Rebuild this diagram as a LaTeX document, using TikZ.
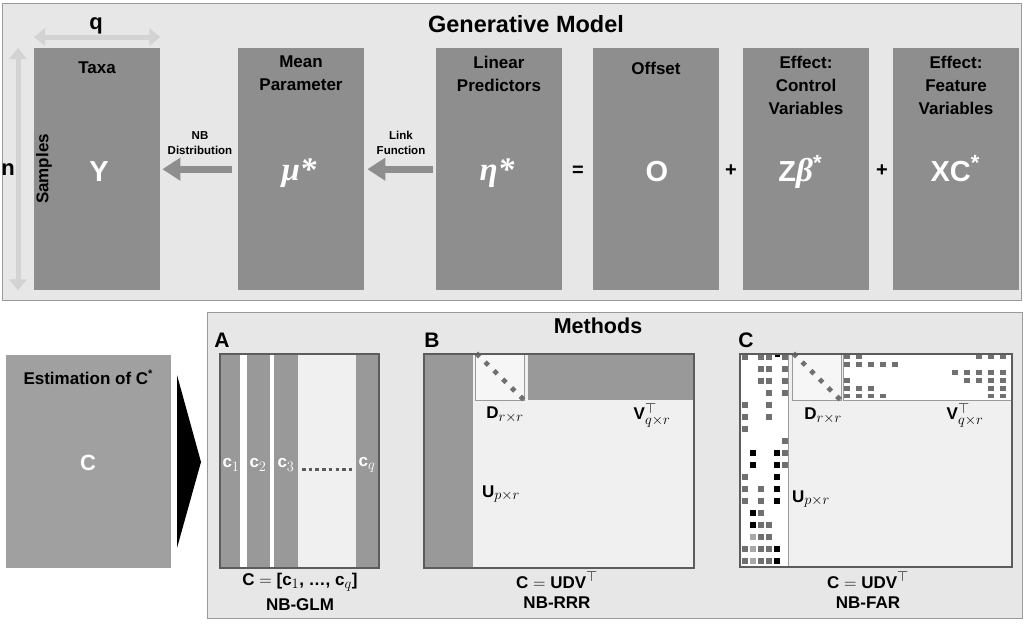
\documentclass[tikz,border=0pt]{standalone}
\usepackage{amsmath,bm}
\usepackage{fontspec}
\setmainfont{Liberation Sans}
\newfontfamily\grk{Liberation Serif}
\DeclareMathSizes{17}{17}{14}{11}
\usetikzlibrary{arrows.meta}
\definecolor{panelbg}{HTML}{E7E7E7}
\definecolor{panelline}{HTML}{9A9A9A}
\definecolor{boxgray}{HTML}{8E8E8E}
\definecolor{estgray}{HTML}{A0A0A0}
\definecolor{stripgray}{HTML}{999999}
\definecolor{lightfill}{HTML}{F0F0F0}
\definecolor{dfill}{HTML}{F6F6F6}
\definecolor{arrowlight}{HTML}{D3D3D3}
\definecolor{matline}{HTML}{5C5C5C}
\definecolor{sqg}{HTML}{707070}
\definecolor{sqk}{HTML}{000000}
\definecolor{sql}{HTML}{A8A8A8}
\begin{document}
\begin{tikzpicture}[x=1pt,y=-1pt,
  hdr/.style={font=\fontsize{17}{23}\selectfont\bfseries, align=center, inner sep=0pt},
  small/.style={font=\fontsize{11.5}{14.5}\selectfont\bfseries, align=center, inner sep=0pt},
  big/.style={font=\fontsize{29}{30}\selectfont\bfseries, text=white, inner sep=0pt, anchor=base},
  greek/.style={font=\fontsize{33}{34}\grk\bfseries\itshape, text=white, inner sep=0pt, anchor=base},
  gbox/.style={fill=boxgray, anchor=north west, inner sep=0pt, minimum width=126pt, minimum height=242pt},
  flow/.style={draw=boxgray, line width=7pt, -{Triangle[length=18pt,width=22pt]}},
  dimarrow/.style={draw=arrowlight, line width=5pt, {Triangle[length=11pt,width=17pt]}-{Triangle[length=11pt,width=17pt]}},
  title/.style={font=\fontsize{23.5}{26}\selectfont\bfseries, inner sep=0pt},
  plabel/.style={font=\fontsize{21}{24}\selectfont\bfseries, inner sep=0pt},
  mlabel/.style={font=\fontsize{17}{20}\selectfont\bfseries, inner sep=0pt},
  clabel/.style={font=\fontsize{17}{20}\selectfont\bfseries, text=white, inner sep=0pt},
  op/.style={font=\fontsize{20}{22}\selectfont\bfseries, inner sep=0pt}
]
\useasboundingbox (0,0) rectangle (1024,630);
\fill[white] (0,0) rectangle (1024,630);

% ---------------- Generative model panel
\node[draw=panelline, fill=panelbg, line width=1pt, anchor=north west, inner sep=0pt,
      minimum width=1019pt, minimum height=297pt] (gen) at (2,3) {};
\node[title] (gentitle) at (526,24) {Generative Model};

\node[gbox] (Y) at (34,48) {};
\node[gbox] (mu) at (238,48) {};
\node[gbox] (eta) at (436,48) {};
\node[gbox] (off) at (593,48) {};
\node[gbox] (ctrl) at (743,48) {};
\node[gbox] (feat) at (893,48) {};

\draw[dimarrow] ([yshift=11pt]Y.north west) -- ([yshift=11pt]Y.north east);
\draw[dimarrow] ([xshift=-16pt]Y.north west) -- ([xshift=-16pt]Y.south west);
\node[font=\fontsize{22}{24}\selectfont\bfseries, inner sep=0pt] (qlab) at (96,26) {q};
\node[font=\fontsize{22}{24}\selectfont\bfseries, inner sep=0pt] (nlab) at (8,170) {n};

\node[hdr, anchor=north] (taxa) at (97,62) {Taxa};
\node[hdr, rotate=90] (samples) at (44,169) {Samples};
\node[big] (Ylab) at (99,181) {Y};

\node[hdr, anchor=north] (muh) at (301,56) {Mean\\Parameter};
\node[greek] (mulab) at (299,180) {μ*};

\node[hdr, anchor=north] (etah) at (499,56) {Linear\\Predictors};
\node[greek] (etalab) at (497,180) {η*};

\node[hdr, anchor=north] (offh) at (656,62) {Offset};
\node[big] (offlab) at (657,181) {O};

\node[hdr, anchor=north] (ctrlh) at (806,56) {Effect:\\Control\\Variables};
\node[big] (ctrllab) at (800,181) {Z{\grk\itshape\fontsize{33}{34}\selectfont β}\raisebox{11pt}{\fontsize{22}{22}\selectfont *}};

\node[hdr, anchor=north] (feath) at (956,56) {Effect:\\Feature\\Variables};
\node[big] (featlab) at (955,181) {XC\raisebox{11pt}{\fontsize{22}{22}\selectfont *}};

\draw[flow] ([xshift=-6pt]mu.west) -- ([xshift=2pt]Y.east);
\node[small] (nbd) at (200,143) {NB\\Distribution};
\draw[flow] ([xshift=-3pt]eta.west) -- ([xshift=3pt]mu.east);
\node[small] (link) at (401,143) {Link\\Function};

\node[op] (eq) at (578,171) {=};
\node[op] (plus1) at (731,171) {+};
\node[op] (plus2) at (882,171) {+};

% ---------------- Estimation box and triangle
\node[fill=estgray, anchor=north west, inner sep=0pt, minimum width=165pt, minimum height=213pt] (est) at (6,355) {};
\node[font=\fontsize{17}{20}\selectfont\bfseries, inner sep=0pt] (esth) at (88,377) {Estimation of C\raisebox{7pt}{\fontsize{11}{11}\selectfont *}};
\node[font=\fontsize{22}{24}\selectfont\bfseries, text=white, inner sep=0pt] (estC) at (88,463) {C};
\fill[black] (177,375) -- (201,462) -- (177,548) -- cycle;

% ---------------- Methods panel
\node[draw=panelline, fill=panelbg, line width=1pt, anchor=north west, inner sep=0pt,
      minimum width=815pt, minimum height=306pt] (meth) at (207,312) {};
\node[title, font=\fontsize{21.5}{24}\selectfont\bfseries] (methtitle) at (598,326) {Methods};

% ----- Panel A
\node[plabel] (labA) at (222,340) {A};
\fill[lightfill] (220,354) rectangle (379,568);
\fill[stripgray] (220,354) rectangle (240,568);
\fill[white] (240,354) rectangle (247,568);
\fill[stripgray] (247,354) rectangle (270,568);
\fill[white] (270,354) rectangle (274,568);
\fill[stripgray] (274,354) rectangle (298,568);
\fill[stripgray] (356,354) rectangle (379,568);
\draw[matline, line width=1.3pt] (220,354) rectangle (379,568);
\node[clabel] (c1) at (231,465) {c$_1$};
\node[clabel] (c2) at (258,465) {c$_2$};
\node[clabel] (c3) at (286,465) {c$_3$};
\node[clabel] (cq) at (367,465) {c$_q$};
\draw[matline, line width=3pt, dash pattern=on 3.5pt off 3.2pt] (302,469) -- (353,469);
\node[mlabel] (eqA) at (300,582) {C $=$ [c$_1$, \ldots, c$_q$]};
\node[mlabel] (nameA) at (300,605) {NB-GLM};

% ----- Panel B
\node[plabel] (labB) at (432,340) {B};
\fill[lightfill] (424,354) rectangle (694,568);
\fill[stripgray] (424,354) rectangle (473,568);
\fill[dfill] (475,354) rectangle (524,400);
\draw[panelline, line width=0.6pt] (475,354) rectangle (524,400);
\fill[stripgray] (528,354) rectangle (694,400);
\foreach \i in {0,...,5} {
  \fill[sqg] ({478+8.8*\i-3.3},{355+8.6*\i}) -- ({478+8.8*\i},{355+8.6*\i-3.3}) -- ({478+8.8*\i+3.3},{355+8.6*\i}) -- ({478+8.8*\i},{355+8.6*\i+3.3}) -- cycle;
}
\draw[matline, line width=1.3pt] (424,354) rectangle (694,568);
\node[mlabel] (DB) at (505,415) {D$_{r\times r}$};
\node[mlabel] (VB) at (652,415) {V$^{\top}_{q\times r}$};
\node[mlabel] (UB) at (501,494) {U$_{p\times r}$};
\node[mlabel] (eqB) at (557,580) {C $=$ UDV$^{\top}$};
\node[mlabel] (nameB) at (557,603) {NB-RRR};

% ----- Panel C
\node[plabel] (labC) at (746,340) {C};
\fill[lightfill] (740,354) rectangle (1012,567);
\fill[white] (740,354) rectangle (788,567);
\draw[panelline, line width=0.6pt] (788,354) -- (788,567);
\fill[dfill] (792,354) rectangle (841,400);
\draw[panelline, line width=0.6pt] (792,354) rectangle (841,400);
\fill[white] (843,354) rectangle (1012,400);
\draw[panelline, line width=0.6pt] (843,354) rectangle (1012,400);
\foreach \i in {0,...,5} {
  \fill[sqg] ({795+8.7*\i-3.3},{355+8.6*\i}) -- ({795+8.7*\i},{355+8.6*\i-3.3}) -- ({795+8.7*\i+3.3},{355+8.6*\i}) -- ({795+8.7*\i},{355+8.6*\i+3.3}) -- cycle;
}
% U factor (sparse)
\foreach \c/\r/\k in {1/1/g,3/1/g,4/1/g,6/1/g,
  3/2/g,4/2/g,6/2/g, 3/3/g,4/3/g,6/3/g, 4/4/g,6/4/g,
  1/5/g,4/5/g, 1/6/g,4/6/g, 1/7/g, 6/8/g,
  2/9/k,5/9/k,6/9/g, 2/10/k,5/10/k,6/10/g,
  1/11/g,5/11/k, 1/12/g,3/12/g,5/12/k, 1/13/g,3/13/g,5/13/k,
  2/14/k,3/14/g, 2/15/k,3/15/g,4/15/g, 2/16/l,3/16/g,4/16/g,
  1/17/g,2/17/l,3/17/g,4/17/g,5/17/k, 1/18/g,2/18/l,3/18/g,4/18/g,5/18/k} {
  \fill[sq\k] ({745+8*(\c-1)-2.6},{357+12*(\r-1)-2.6}) rectangle +(5.2,5.2);
}
\fill[black] (775,354.5) rectangle (780,356.5);
% V factor (sparse)
\foreach \c/\r in {1/1,2/1,12/1,13/1,14/1,
  1/2,2/2,3/2,4/2,5/2,
  10/3,11/3,12/3,13/3,14/3,
  1/4,11/4,12/4,13/4,14/4,
  1/5,2/5,3/5,13/5,14/5,
  1/6,2/6,3/6,4/6,13/6,14/6} {
  \fill[sqg] ({847+12*(\c-1)-2.6},{357+7.8*(\r-1)-2.4}) rectangle +(5.2,4.8);
}
\draw[matline, line width=1.3pt] (740,354) rectangle (1012,567);
\node[mlabel] (DC) at (823,416) {D$_{r\times r}$};
\node[mlabel] (VC) at (965,415) {V$^{\top}_{q\times r}$};
\node[mlabel] (UC) at (811,499) {U$_{p\times r}$};
\node[mlabel] (eqC) at (868,580) {C $=$ UDV$^{\top}$};
\node[mlabel] (nameC) at (868,603) {NB-FAR};
\end{tikzpicture}
\end{document}
